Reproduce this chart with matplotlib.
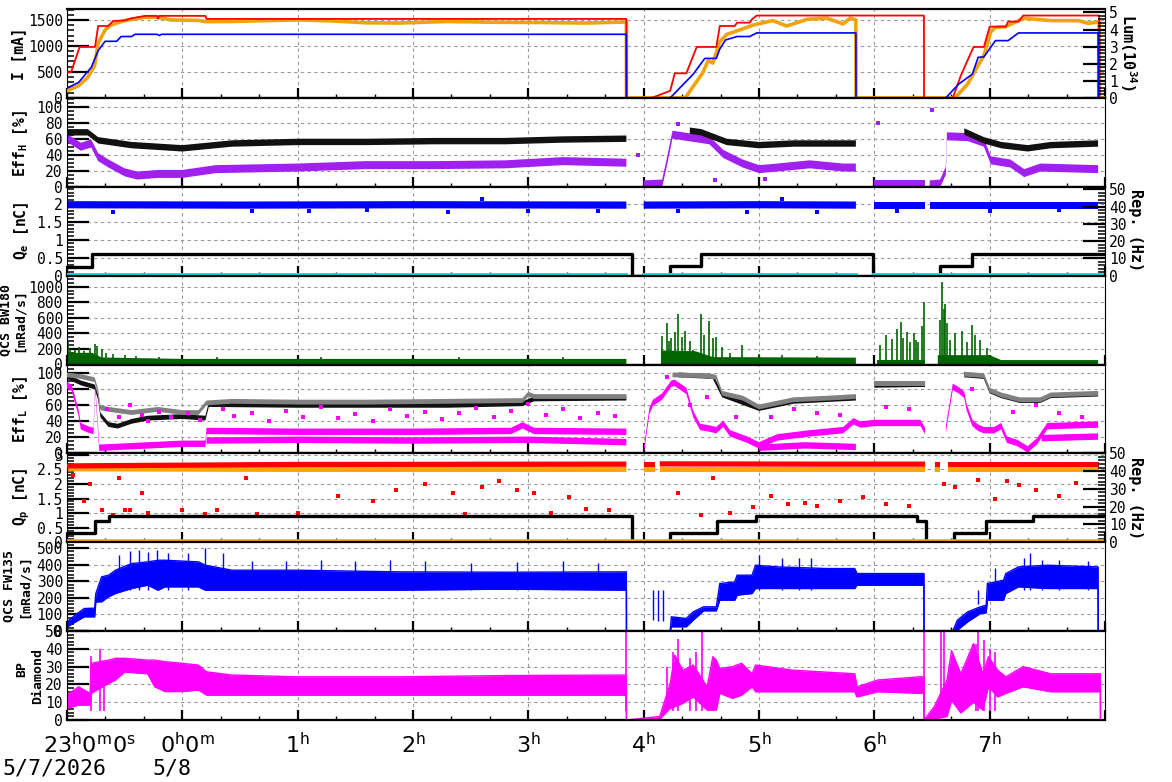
# 加速器運転状況（電流・効率・電荷・放射線量）を8段の時系列で描くスクリプト

import numpy as np
import matplotlib
matplotlib.use('Agg')
import matplotlib.pyplot as plt
from matplotlib.ticker import MultipleLocator, FuncFormatter

plt.rcParams['font.family'] = ['DejaVu Sans Mono']
plt.rcParams['mathtext.fontset'] = 'dejavusans'

nan = np.nan

# 時刻は 5/8 0:00 からの時間 [h]（-1 = 5/7 23:00）
HOURS = [-1, 0, 1, 2, 3, 4, 5, 6, 7]
HOUR_LABELS = [r'$\mathregular{23^h0^m0^s}$', r'$\mathregular{0^h0^m}$', r'$\mathregular{1^h}$',
               r'$\mathregular{2^h}$', r'$\mathregular{3^h}$', r'$\mathregular{4^h}$',
               r'$\mathregular{5^h}$', r'$\mathregular{6^h}$', r'$\mathregular{7^h}$']

# --- 1段目: ビーム電流 [mA] と ルミノシティ
I_RED_T = [-1.0, -0.965, -0.89, -0.757, -0.73, -0.643, -0.60, -0.50, -0.44, -0.32, -0.22, -0.21, -0.20,
           0.20, 0.21, 3.85, 3.851, 4.07, 4.23, 4.27, 4.37, 4.46, 4.63, 4.66, 4.79, 4.81, 4.92, 4.94,
           4.98, 6.43, 6.431, 6.68, 6.75, 6.86, 6.95, 7.0, 7.14, 7.16, 7.25, 7.29, 7.95, 7.951, 8.0]
I_RED = [494, 494, 980, 980, 1383, 1383, 1480, 1490, 1532, 1578, 1578, 1520, 1578,
         1578, 1519, 1519, 0, 0, 136, 473, 473, 980, 980, 1383, 1383, 1447, 1447, 1513,
         1584, 1584, 0, 0, 429, 980, 980, 1370, 1370, 1467, 1467, 1584, 1584, 0, 0]
I_ORG_T = [-1.0, -0.9, -0.82, -0.76, -0.73, -0.67, -0.62, -0.5, -0.32, -0.21, -0.1, 0.14, 0.2, 0.43,
           1.0, 1.3, 1.59, 1.88, 2.3, 2.7, 3.1, 3.5, 3.85, 3.851, 4.36, 4.51, 4.56, 4.60, 4.66, 4.72,
           4.83, 4.95, 5.12, 5.24, 5.42, 5.59, 5.73, 5.79, 5.84, 5.841, 6.70, 6.81, 6.90, 6.95, 7.01,
           7.05, 7.14, 7.25, 7.30, 7.53, 7.77, 7.85, 7.95, 7.951, 8.0]
I_ORG = [136, 234, 395, 623, 1052, 1305, 1402, 1487, 1552, 1552, 1500, 1490, 1467, 1470,
         1500, 1480, 1445, 1440, 1470, 1455, 1450, 1440, 1460, 0, 0, 473, 720, 668, 1077, 1221,
         1305, 1402, 1487, 1383, 1513, 1532, 1422, 1532, 1500, 0, 0, 270, 623, 818, 1273,
         1357, 1370, 1487, 1532, 1487, 1487, 1435, 1460, 0, 0]
LUM_T = [-1.0, -0.9, -0.79, -0.73, -0.67, -0.57, -0.53, -0.44, -0.41, -0.22, -0.2, -0.18, 3.85, 3.851,
         4.23, 4.43, 4.53, 4.63, 4.66, 4.71, 4.81, 4.92, 4.98, 5.84, 5.841, 6.62, 6.73, 6.85, 6.90,
         6.95, 7.05, 7.16, 7.25, 7.94, 7.941, 8.0]
LUM = [0.57, 0.9, 1.78, 2.76, 3.31, 3.31, 3.59, 3.59, 3.72, 3.72, 3.65, 3.72, 3.72, 0,
       0, 1.39, 2.31, 2.31, 2.86, 3.39, 3.59, 3.59, 3.8, 3.8, 0, 0, 0.8, 1.39, 2.37,
       2.4, 3.35, 3.35, 3.8, 3.8, 0, 0]

# --- 2段目: Eff_H [%]（中心値とばらつき幅）
EH_BLK_T = [-1.0, -0.82, -0.73, -0.44, 0.0, 0.43, 1.0, 1.6, 2.2, 2.8, 3.3, 3.85, 3.9, 4.4, 4.5,
            4.72, 5.0, 5.3, 5.6, 5.84, 5.9, 6.78, 6.95, 7.1, 7.33, 7.53, 7.94]
EH_BLK = [68, 68, 58, 52, 48, 54, 56, 56, 57, 57, 59, 60, nan, 70, 68,
          56, 52, 54, 54, 54, nan, 69, 58, 52, 48, 52, 54]
EH_PUR_T = [-1.0, -0.88, -0.79, -0.73, -0.64, -0.5, -0.39, -0.21, 0.0, 0.29, 1.0, 1.59, 2.2, 2.8,
            3.3, 3.85, 3.9, 4.0, 4.16, 4.2, 4.25, 4.57, 4.69, 4.86, 5.0, 5.16, 5.44, 5.73, 5.84,
            5.9, 6.0, 6.44, 6.45, 6.48, 6.57, 6.62, 6.63, 6.81, 6.95, 7.01, 7.18, 7.3, 7.44, 7.94]
EH_PUR = [61, 50, 54, 37, 29, 18, 14, 16, 16, 22, 24, 27, 27, 28,
          32, 30, nan, 3, 4, 30, 65, 58, 41, 29, 22, 24, 28, 24, 24,
          nan, 3, 3, nan, 3, 4, 20, 63, 62, 55, 33, 29, 17, 24, 22]
EH_BLK_SPREAD = 4
EH_PUR_SPREAD = 5
EH_PUR_DOT_T = [6.03, 6.5, 4.3, 4.62, 5.05, 3.95]
EH_PUR_DOT = [80, 96, 78, 8, 10, 40]

# --- 3段目: Q_e [nC] と 繰り返し [Hz]
QE_T = [-1.0, 0.5, 2.0, 3.85, 3.9, 4.0, 5.0, 5.84, 5.9, 6.0, 6.44, 6.46, 6.48, 7.94]
QE = [1.97, 1.96, 1.97, 1.96, nan, 1.96, 1.97, 1.96, nan, 1.96, 1.96, nan, 1.96, 1.96]
QE_SPREAD = 0.1
QE_DOT_T = [-0.6, 0.6, 1.1, 1.6, 2.3, 3.0, 3.6, 4.3, 4.9, 5.5, 6.2, 7.0, 7.6, 2.6, 5.2]
QE_DOT = [1.78, 1.80, 1.79, 1.82, 1.78, 1.80, 1.79, 1.80, 1.77, 1.78, 1.80, 1.79, 1.81, 2.14, 2.13]
REP_E_T = [-1.0, -0.78, 3.9, 4.23, 4.5, 5.99, 6.57, 6.85, 8.0]
REP_E = [5, 12.5, 0, 5.3, 12.5, 0, 5.3, 12.5, 12.5]
CYAN_T = [-1.0, 3.85, 3.9, 4.0, 5.84, 5.9, 6.0, 7.97]
CYAN = [0.3, 0.3, nan, 0.3, 0.3, nan, 0.3, 0.3]

# --- 4段目: QCS BW180 [mRad/s]（ベース帯とスパイク）
BW_T = [-1.0, -0.78, -0.7, 0.0, 3.85, 3.86, 4.15, 4.45, 4.6, 5.84, 5.85, 6.02, 6.44, 6.45, 6.55,
        7.0, 7.1, 7.94]
BW = [150, 150, 90, 72, 72, nan, 180, 170, 95, 88, nan, 55, 55, nan, 120, 120, 57, 57]
BW_SPK_T = [-0.99, -0.97, -0.93, -0.9, -0.85, -0.8, -0.76, -0.74, -0.7, -0.66, -0.6, -0.5, -0.4,
            -0.2, 0.3, 1.2, 2.4, 3.3,
            4.16, 4.2, 4.22, 4.24, 4.27, 4.3, 4.33, 4.36, 4.4, 4.43, 4.5, 4.52, 4.57, 4.6, 4.63,
            4.68, 4.75, 4.85, 5.0, 5.2, 5.5,
            6.05, 6.1, 6.15, 6.2, 6.23, 6.25, 6.28, 6.31, 6.34, 6.36, 6.38, 6.41, 6.43,
            6.57, 6.585, 6.6, 6.61, 6.63, 6.66, 6.7, 6.76, 6.8, 6.85, 6.87, 6.92, 6.98]
BW_SPK = [290, 200, 180, 230, 170, 210, 265, 240, 200, 150, 140, 120, 110,
          100, 95, 95, 90, 95,
          361, 527, 300, 344, 420, 654, 350, 426, 300, 187, 644, 383, 557, 344, 357,
          230, 150, 252, 130, 120, 110,
          250, 380, 330, 450, 540, 340, 420, 295, 400, 317, 295, 500, 797,
          577, 1065, 707, 773, 537, 317, 400, 426, 295, 513, 383, 317, 209]

# --- 5段目: Eff_L [%]
EL_GRY_T = [-1.0, -0.88, -0.76, -0.73, -0.71, -0.64, -0.44, -0.21, 0.0, 0.14, 0.21, 0.43, 1.0, 1.59,
            2.3, 2.95, 3.0, 3.05, 3.2, 3.5, 3.85, 3.9, 4.25, 4.55, 4.63, 4.68, 4.86, 5.0, 5.3, 5.6,
            5.84, 5.86, 6.0, 6.44, 6.5, 6.78, 6.95, 7.0, 7.1, 7.26, 7.44, 7.53, 7.94]
EL_GRY = [98, 96, 92, 77, 57, 55, 51, 55, 51, 51, 63, 65, 64, 64,
          65, 66, 74, 71, 71, 71, 71, nan, 98, 97, 95, 75, 69, 58, 67, 69,
          71, nan, 87, 87, nan, 99, 97, 79, 73, 67, 67, 73, 75]
EL_BLK_T = [-1.0, -0.88, -0.76, -0.73, -0.71, -0.64, -0.56, -0.44, -0.3, 0.0, 0.2, 0.23, 1.0, 2.3,
            2.95, 3.05, 3.85, 3.9, 4.3, 4.6, 4.68, 5.0, 5.3, 5.84, 5.86, 6.0, 6.44, 6.5, 6.78,
            6.95, 7.0, 7.1, 7.26, 7.44, 7.53, 7.94]
EL_BLK = [96, 88, 83, 70, 48, 36, 34, 40, 44, 46, 44, 61, 60, 60,
          62, 68, 69, nan, 98, 96, 73, 56, 65, 69, nan, 85, 86, nan, 98,
          96, 78, 72, 66, 66, 72, 74]
EL_MAG_T = [-1.0, -0.96, -0.9, -0.88, -0.82, -0.77, -0.755, -0.72, -0.44, 0.0, 0.2, 0.21, 1.0, 2.0,
            2.85, 2.95, 3.05, 3.85, 3.9, 4.0, 4.05, 4.08, 4.16, 4.24, 4.27, 4.37, 4.43, 4.49, 4.57,
            4.63, 4.69, 4.75, 4.9, 5.0, 5.16, 5.44, 5.73, 5.82, 5.88, 6.0, 6.4, 6.44, 6.5, 6.62,
            6.68, 6.73, 6.78, 6.8, 6.85, 6.9, 6.95, 7.04, 7.1, 7.15, 7.24, 7.33, 7.41, 7.5, 7.94]
EL_MAG = [85, 82, 51, 34, 30, 28, 82, 7, 9, 12, 12, 28, 27, 27,
          28, 35, 28, 27, nan, 2, 53, 63, 71, 87, 88, 78, 49, 33, 31,
          29, 37, 25, 17, 10, 20, 25, 29, 40, 36, 38, 38, 28, nan, 30,
          83, 79, 73, 58, 38, 32, 29, 29, 34, 17, 13, 5, 15, 34, 36]
EL_MAG2_T = [0.21, 1.0, 2.0, 3.0, 3.85, 3.9, 5.0, 5.4, 5.84, 5.9, 7.45, 7.94]
EL_MAG2 = [16, 17, 16, 17, 14, nan, 7, 10, 8, nan, 19, 21]
EL_GRY_SPREAD = 3
EL_BLK_SPREAD = 3
EL_MAG_SPREAD = 4
EL_MAG_DOT_T = [-0.65, -0.55, -0.45, -0.35, -0.3, -0.2, -0.1, 0.05, 0.15, 0.35, 0.45, 0.6, 0.75, 0.9,
                1.05, 1.2, 1.35, 1.5, 1.65, 1.8, 1.95, 2.1, 2.25, 2.4, 2.55, 2.7, 2.85, 3.0, 3.15,
                3.3, 3.45, 3.6, 3.75, 4.2, 4.4, 4.55, 4.8, 5.1, 5.3, 5.5, 5.7, 6.1, 6.3, 6.85, 7.2,
                7.4, 7.6, 7.8]
EL_MAG_DOT = [55, 45, 60, 48, 40, 52, 45, 50, 42, 56, 47, 50, 41, 53,
              46, 58, 44, 49, 40, 55, 47, 52, 43, 50, 57, 46, 53, 62, 48,
              55, 44, 51, 47, 95, 60, 70, 45, 45, 55, 50, 48, 58, 55, 80, 52,
              60, 50, 45]

# --- 6段目: Q_p [nC] と 繰り返し [Hz]
QP_T = [-1.0, 1.0, 3.85, 3.9, 4.0, 4.1, 4.12, 4.14, 5.5, 6.44, 6.48, 6.53, 6.57, 6.6, 6.64, 7.95]
QP_RED = [2.62, 2.67, 2.68, nan, 2.68, 2.68, nan, 2.69, 2.68, 2.68, nan, 2.68, 2.68, nan, 2.68, 2.68]
QP_ORG = [2.52, 2.5, 2.5, nan, 2.5, 2.5, nan, 2.5, 2.5, 2.5, nan, 2.5, 2.5, nan, 2.5, 2.5]
QP_SPREAD = 0.09
QP_DOT_T = [-0.95, -0.85, -0.8, -0.7, -0.6, -0.55, -0.5, -0.45, -0.35, -0.3, 0.0, 0.2, 0.3, 0.55,
            0.65, 1.0, 1.35, 1.65, 1.85, 2.1, 2.35, 2.45, 2.6, 2.75, 2.9, 3.05, 3.2, 3.35, 3.5,
            3.7, 4.3, 4.5, 4.6, 4.75, 4.95, 5.1, 5.25, 5.4, 5.5, 5.7, 5.9, 6.1, 6.3, 6.6, 6.7,
            6.9, 7.05, 7.15, 7.25, 7.4, 7.6, 7.75]
QP_DOT = [2.3, 1.4, 2.0, 1.1, 0.95, 2.2, 1.1, 1.1, 1.7, 1.0, 1.1, 0.98, 1.1, 2.2,
          0.98, 1.0, 1.6, 1.4, 1.8, 2.0, 1.7, 0.98, 1.9, 2.1, 1.8, 1.7, 1.0, 1.55, 1.15,
          1.1, 1.7, 0.95, 2.2, 1.0, 1.2, 1.6, 1.3, 1.35, 1.25, 1.4, 1.55, 1.3, 1.25, 2.0, 1.9,
          2.15, 1.5, 2.1, 1.95, 1.8, 1.6, 2.05]
QP_LOW_T = [-1.0, 7.97]
QP_LOW = [0.05, 0.05]
REP_P_T = [-1.0, -0.76, -0.64, 3.9, 4.23, 4.64, 4.97, 6.37, 6.45, 6.69, 6.97, 7.38, 8.0]
REP_P = [5, 12, 15, 0, 5, 12, 15, 12, 0, 5, 12, 15, 15]

# --- 7段目: QCS FW135 [mRad/s]（下限・上限）
FW_T = [-1.0, -0.93, -0.85, -0.76, -0.75, -0.7, -0.64, -0.58, -0.44, -0.3, -0.21, -0.15, 0.14, 0.2,
        0.43, 1.0, 1.88, 2.8, 3.85, 3.851, 4.05, 4.23, 4.24, 4.37, 4.43, 4.52, 4.63, 4.66, 4.79,
        4.81, 4.94, 4.97, 5.16, 5.59, 5.83, 5.85, 6.43, 6.431, 6.68, 6.72, 6.81, 6.92, 6.97,
        6.98, 7.12, 7.14, 7.25, 7.5, 7.94, 7.941, 8.0]
FW_LO = [24, 54, 86, 86, 176, 176, 206, 226, 256, 276, 246, 266, 266, 246,
         246, 246, 246, 252, 246, 0, 0, 0, 26, 26, 66, 122, 122, 186, 186,
         216, 226, 256, 256, 256, 256, 276, 276, 0, 0, 6, 56, 106, 110,
         186, 186, 226, 266, 256, 256, 0, 0]
FW_HI = [54, 96, 136, 138, 226, 326, 336, 366, 406, 416, 426, 426, 416, 396,
         366, 366, 356, 354, 356, 0, 0, 0, 86, 76, 116, 146, 146, 286, 296,
         336, 336, 396, 386, 376, 376, 346, 346, 0, 0, 66, 116, 146, 156,
         286, 306, 346, 386, 396, 386, 0, 0]
FW_SPK_T = [-0.55, -0.45, -0.38, -0.3, -0.22, -0.12, 0.05, 0.2, 0.35, 0.6, 0.9, 1.2, 1.5, 1.8, 2.1,
            2.5, 2.9, 3.3, 3.6, 4.08, 4.12, 4.17, 5.0, 5.2, 5.35, 5.45, 6.9, 7.05, 7.3, 7.35,
            7.45, 7.6, 7.85]
FW_SPK = [460, 480, 490, 475, 490, 470, 470, 500, 470, 420, 420, 430, 420, 430, 420,
          410, 415, 420, 410, 66, 60, 60, 460, 440, 440, 440, 160, 380, 440, 468,
          430, 430, 420]

# --- 8段目: BP Diamond（下限・上限）
BP_T = [-1.0, -0.9, -0.8, -0.79, -0.64, -0.58, -0.5, -0.3, -0.24, -0.15, 0.0, 0.14, 0.21, 0.43,
        1.0, 1.88, 2.8, 3.85, 3.851, 4.14, 4.23, 4.27, 4.34, 4.43, 4.55, 4.6, 4.63, 4.66, 4.77,
        4.85, 4.94, 4.97, 5.3, 5.83, 5.85, 6.03, 6.4, 6.43, 6.431, 6.52, 6.63, 6.67, 6.75, 6.86,
        6.94, 6.99, 7.07, 7.14, 7.29, 7.53, 7.96, 7.961, 8.0]
BP_LO = [6.6, 8.4, 8.4, 15, 20.6, 22.5, 27, 26, 18.7, 16, 16, 16.9, 14, 14,
         14, 14, 14, 14, 0, 0.5, 6.6, 7.5, 9.4, 13, 5.6, 5.6, 5.6, 15, 12.2,
         14, 18.7, 15.9, 15.9, 15.9, 13, 15.9, 15, 15, 0, 0.5, 2, 11, 4, 10,
         5.6, 18.7, 13, 15, 18.7, 15.9, 15.9, 0, 0]
BP_HI = [14, 18.7, 15, 31.9, 33.7, 34.7, 34.7, 33.7, 33.7, 32.8, 31.9, 30.9, 27.1, 25.3,
         24.3, 24.3, 25, 25.3, 0, 2, 20.6, 36.5, 28, 30.9, 18.7, 35.6, 33.7, 29, 30,
         31.9, 26, 30.9, 28, 26, 18.7, 22.5, 24.3, 24.3, 0, 7.5, 22.5, 39, 26, 43,
         26, 35.6, 28, 24.3, 30, 26, 26, 0, 0]
BP_SPK_T = [-0.79, -0.71, -0.68, 3.85, 4.2, 4.25, 4.3, 4.4, 4.45, 4.51, 6.43, 6.58, 6.6, 6.88, 6.9,
            6.95, 7.0, 7.05]
BP_SPK = [36, 39.7, 30, 50, 30, 38, 45.5, 35, 38, 49.6, 50, 50, 50, 43, 50, 45, 40, 38]

# ---------------- 描画 ----------------
W, H = 1172, 782
fig = plt.figure(figsize=(W / 100, H / 100), dpi=100)
LEFT, RIGHT, TOP, BOT = 67, 1105, 9, 720
PH = (BOT - TOP) / 8

fmt = FuncFormatter(lambda v, p: f'{v:g}')
GRID = dict(color='#9a9a9a', ls=(0, (3, 3)), lw=0.8)


def make_ax(i, ylim, major, minor):
    ax = fig.add_axes([LEFT / W, 1 - (TOP + (i + 1) * PH) / H, (RIGHT - LEFT) / W, PH / H])
    ax.set_xlim(-1, 8)
    ax.set_ylim(*ylim)
    ax.xaxis.set_major_locator(MultipleLocator(1))
    ax.xaxis.set_minor_locator(MultipleLocator(1 / 3))
    ax.yaxis.set_major_locator(MultipleLocator(major))
    ax.yaxis.set_minor_locator(MultipleLocator(minor))
    ax.yaxis.set_major_formatter(fmt)
    ax.tick_params(axis='x', which='both', direction='in', labelbottom=False, top=False)
    ax.tick_params(axis='x', which='major', length=7, width=1.6)
    ax.tick_params(axis='x', which='minor', length=3, width=1)
    ax.tick_params(axis='y', which='both', direction='in', labelsize=10.5, pad=3, right=False)
    ax.tick_params(axis='y', which='major', length=16, width=1.6)
    ax.tick_params(axis='y', which='minor', length=5, width=1.1)
    ax.grid(True, which='major', **GRID)
    ax.set_axisbelow(True)
    for s in ('top', 'bottom'):
        ax.spines[s].set_linewidth(1.6)
    for s in ('left', 'right'):
        ax.spines[s].set_linewidth(0.8)
    return ax


def make_twin(ax, ylim, major, minor):
    tw = ax.twinx()
    tw.set_ylim(*ylim)
    tw.yaxis.set_major_locator(MultipleLocator(major))
    tw.yaxis.set_minor_locator(MultipleLocator(minor))
    tw.yaxis.set_major_formatter(fmt)
    tw.tick_params(axis='y', which='both', direction='in', labelsize=10.5, pad=3)
    tw.tick_params(axis='y', which='major', length=16, width=1.6)
    tw.tick_params(axis='y', which='minor', length=5, width=1.1)
    for s in tw.spines.values():
        s.set_visible(False)
    return tw


def band(ax, t, c, spread, color, z=2):
    c = np.array(c, dtype=float)
    ax.fill_between(t, c - spread, c + spread, color=color, lw=0, zorder=z)


# 1段目
ax1 = make_ax(0, (0, 1710), 500, 100)
tw1 = make_twin(ax1, (0, 5.2), 1, 0.2)
ax1.plot(I_ORG_T, I_ORG, color='#f0a30a', lw=2.6, zorder=3)
ax1.plot(I_RED_T, I_RED, color='#ff0000', lw=1.3, zorder=4)
tw1.plot(LUM_T, LUM, color='#0000ff', lw=1.2)

# 2段目
ax2 = make_ax(1, (0, 111), 20, 5)
band(ax2, EH_PUR_T, EH_PUR, EH_PUR_SPREAD, '#a020f0')
band(ax2, EH_BLK_T, EH_BLK, EH_BLK_SPREAD, '#111111', z=3)
ax2.scatter(EH_PUR_DOT_T, EH_PUR_DOT, s=5, marker='s', color='#a020f0', lw=0, zorder=3)

# 3段目
ax3 = make_ax(2, (0, 2.47), 0.5, 0.1)
tw3 = make_twin(ax3, (0, 51.5), 10, 2)
band(ax3, QE_T, QE, QE_SPREAD, '#0000ff')
ax3.scatter(QE_DOT_T, QE_DOT, s=5, marker='s', color='#0000ff', lw=0, zorder=3)
tw3.plot(REP_E_T, REP_E, color='black', lw=2.4, drawstyle='steps-post')
tw3.plot(CYAN_T, CYAN, color='#00e5e5', lw=2.8)

# 4段目
ax4 = make_ax(3, (0, 1141), 200, 50)
ax4.fill_between(BW_T, 0, BW, color='#006400', lw=0, zorder=2)
ax4.vlines(BW_SPK_T, 0, BW_SPK, color='#006400', lw=1.2, zorder=2)

# 5段目
ax5 = make_ax(4, (0, 111), 20, 5)
band(ax5, EL_BLK_T, EL_BLK, EL_BLK_SPREAD, '#111111')
band(ax5, EL_GRY_T, EL_GRY, EL_GRY_SPREAD, '#808080', z=3)
band(ax5, EL_MAG_T, EL_MAG, EL_MAG_SPREAD, '#ff00ff', z=4)
band(ax5, EL_MAG2_T, EL_MAG2, EL_MAG_SPREAD, '#ff00ff', z=4)
ax5.scatter(EL_MAG_DOT_T, EL_MAG_DOT, s=5, marker='s', color='#ff00ff', lw=0, zorder=4)

# 6段目
ax6 = make_ax(5, (0, 3.05), 0.5, 0.1)
tw6 = make_twin(ax6, (0, 50), 10, 2)
band(ax6, QP_T, QP_ORG, QP_SPREAD, '#ffa500')
band(ax6, QP_T, QP_RED, QP_SPREAD, '#ff0000', z=3)
ax6.scatter(QP_DOT_T, QP_DOT, s=5, marker='s', color='#ff0000', lw=0, zorder=3)
tw6.plot(REP_P_T, REP_P, color='black', lw=2.4, drawstyle='steps-post')
tw6.plot(QP_LOW_T, np.array(QP_LOW) / 3.05 * 50, color='#ffa500', lw=2.6)

# 7段目
ax7 = make_ax(6, (0, 534), 100, 20)
ax7.fill_between(FW_T, FW_LO, FW_HI, color='#0000ff', lw=0, zorder=2)
ax7.plot(FW_T, FW_LO, color='#0000ff', lw=1, zorder=2)
ax7.plot(FW_T, FW_HI, color='#0000ff', lw=1, zorder=2)
ax7.vlines(FW_SPK_T, 250, FW_SPK, color='#0000ff', lw=1, zorder=2)

# 8段目
ax8 = make_ax(7, (0, 50), 10, 2)
ax8.fill_between(BP_T, BP_LO, BP_HI, color='#ff00ff', lw=0, zorder=2)
ax8.plot(BP_T, BP_LO, color='#ff00ff', lw=1, zorder=2)
ax8.plot(BP_T, BP_HI, color='#ff00ff', lw=1, zorder=2)
ax8.vlines(BP_SPK_T, 5, BP_SPK, color='#ff00ff', lw=1.2, zorder=2)

# 時刻ラベル
for h, lab in zip(HOURS, HOUR_LABELS):
    if h == -1:
        ax8.annotate(lab, xy=(h, 0), xycoords=('data', 'axes fraction'), xytext=(-17, -18),
                     textcoords='offset points', ha='left', va='center', fontsize=16,
                     family='DejaVu Sans')
    else:
        dx = 4 if h == 0 else 0
        ax8.annotate(lab, xy=(h, 0), xycoords=('data', 'axes fraction'), xytext=(dx, -18),
                     textcoords='offset points', ha='center', va='center', fontsize=16,
                     family='DejaVu Sans')
fig.text(2 / W, 1 - 768 / H, '5/7/2026', ha='left', va='center', fontsize=15.5)
fig.text(152 / W, 1 - 768 / H, '5/8', ha='left', va='center', fontsize=15.5)

# 縦軸ラベル（1行のもの、2行のもの）
ylabels = [('I [mA]', 19, 54), (r'Eff$_\mathregular{H}$ [%]', 21, 143),
           (r'Q$_\mathregular{e}$ [nC]', 22, 231), (r'Eff$_\mathregular{L}$ [%]', 21, 409),
           (r'Q$_\mathregular{p}$ [nC]', 22, 497)]
for s, x, y in ylabels:
    fig.text(x / W, 1 - y / H, s, rotation=90, ha='center', va='center', fontsize=10.5,
             fontweight='bold')
ylabels2 = [('QCS BW180', 6, 320), ('[mRad/s]', 19, 320), ('QCS FW135', 9, 586),
            ('[mRad/s]', 24, 586), ('BP', 22, 669), ('Diamond', 38, 676)]
for s, x, y in ylabels2:
    fig.text(x / W, 1 - y / H, s, rotation=90, ha='center', va='center', fontsize=9.5,
             fontweight='bold')
for s, x, y in [(r'Lum(10$^\mathregular{34}$)', 1128, 52), ('Rep. (Hz)', 1135, 230),
                ('Rep. (Hz)', 1135, 498)]:
    fig.text(x / W, 1 - y / H, s, rotation=270, ha='center', va='center', fontsize=11,
             fontweight='bold')

plt.savefig('out.png', dpi=100)
